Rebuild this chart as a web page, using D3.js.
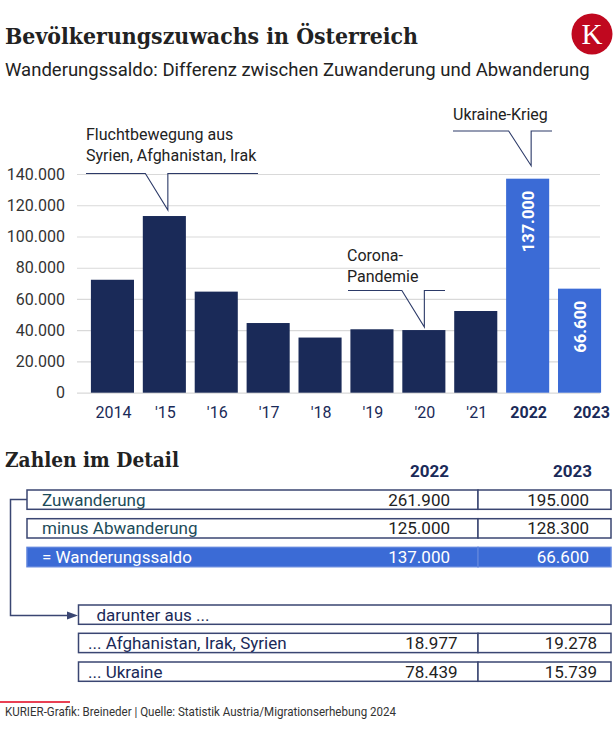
<!DOCTYPE html>
<html>
<head>
<meta charset="utf-8">
<script src="https://cdn.jsdelivr.net/npm/d3@7"></script>
<style>
  body { margin: 0; background: #fff; }
  text { font-family: Roboto, "Noto Sans", sans-serif; }
</style>
</head>
<body>
<div id="chart"></div>
<script>
// Wanderungssaldo per year
const years = ["2014", "'15", "'16", "'17", "'18", "'19", "'20", "'21", "2022", "2023"];
const saldo = [72300, 113100, 64700, 44600, 35300, 40600, 40100, 52300, 137000, 66600];
const highlighted = ["2022", "2023"];
const yTicks = [0, 20000, 40000, 60000, 80000, 100000, 120000, 140000];

// Detail table
const tableYears = ["2022", "2023"];
const mainRows = ["Zuwanderung", "minus Abwanderung", "= Wanderungssaldo"];
const mainValues = [[261900, 195000], [125000, 128300], [137000, 66600]];
const detailHeader = "darunter aus ...";
const detailRows = ["... Afghanistan, Irak, Syrien", "... Ukraine"];
const detailValues = [[18977, 19278], [78439, 15739]];

const width = 616, height = 736;
const navy = "#1a2a58", blue = "#3b6bd6", boxStroke = "#3a4672";

const de = d3.formatLocale({decimal: ",", thousands: ".", grouping: [3], currency: ["", " €"]});
const fmt = de.format(",");

const svg = d3.select("#chart").append("svg")
    .attr("width", width)
    .attr("height", height);

// Title + subtitle
svg.append("text")
    .attr("x", 5).attr("y", 44)
    .style("font-family", "'DejaVu Serif', serif")
    .style("font-weight", "bold")
    .style("font-size", "23px")
    .attr("textLength", 413).attr("lengthAdjust", "spacingAndGlyphs")
    .attr("fill", "#222")
    .text("Bevölkerungszuwachs in Österreich");

svg.append("text")
    .attr("x", 5).attr("y", 76)
    .style("font-size", "18.5px")
    .attr("fill", "#222")
    .text("Wanderungssaldo: Differenz zwischen Zuwanderung und Abwanderung");

// KURIER logo
const logo = svg.append("g").attr("transform", "translate(592,34)");
logo.append("circle").attr("r", 20.5).attr("fill", "#c0081f");
logo.append("text")
    .attr("text-anchor", "middle").attr("y", 10)
    .style("font-family", "'Liberation Serif', serif")
    .style("font-size", "29px")
    .attr("fill", "#fff")
    .text("K");

// Scales
const x = d3.scaleBand()
    .domain(years)
    .range([86.5, 605.5])
    .paddingInner(0.17)
    .paddingOuter(0.085);

const y = d3.scaleLinear()
    .domain([0, 140000])
    .range([392.7, 174]);

// Gridlines
svg.append("g")
    .attr("transform", "translate(77,0)")
    .call(d3.axisLeft(y).tickValues(yTicks).tickSize(-523).tickFormat(""))
    .call(g => g.select(".domain").remove())
    .call(g => g.selectAll("line").attr("stroke", "#d9d9d9").attr("stroke-width", 1.2));

// Y labels
svg.append("g")
    .attr("transform", "translate(77,0)")
    .call(d3.axisLeft(y).tickValues(yTicks).tickSize(0).tickPadding(12).tickFormat(fmt))
    .call(g => g.select(".domain").remove())
    .call(g => g.selectAll("text")
        .style("font-family", "Roboto, sans-serif")
        .style("font-size", "16px")
        .attr("fill", "#333"));

// X labels (last one nudged right, as in the original layout)
svg.append("g")
    .attr("transform", "translate(0," + y(0) + ")")
    .call(d3.axisBottom(x).tickSize(0).tickPadding(14))
    .call(g => g.select(".domain").remove())
    .call(g => g.selectAll("text")
        .style("font-family", "Roboto, sans-serif")
        .style("font-size", "16px")
        .style("font-weight", d => highlighted.includes(d) ? "bold" : "normal")
        .attr("dx", d => d === years[years.length - 1] ? 12 : 1)
        .attr("fill", navy));

// Bars
const data = years.map((yr, i) => ({year: yr, value: saldo[i]}));

svg.append("g").selectAll("rect")
    .data(data)
    .enter().append("rect")
    .attr("x", d => x(d.year))
    .attr("y", d => y(d.value))
    .attr("width", x.bandwidth())
    .attr("height", d => y(0) - y(d.value))
    .attr("fill", d => highlighted.includes(d.year) ? blue : navy);

// Value labels inside highlighted bars
svg.append("g").selectAll("text")
    .data(data.filter(d => highlighted.includes(d.year)))
    .enter().append("text")
    .attr("transform", d => "translate(" + (x(d.year) + x.bandwidth() / 2) + "," + (y(d.value) + 12) + ") rotate(-90)")
    .attr("text-anchor", "end")
    .attr("dy", "0.36em")
    .style("font-size", "16.5px")
    .style("font-weight", "bold")
    .attr("fill", "#fff")
    .text(d => fmt(d.value));

// Callout annotations
const notes = [
    {year: "'15", lines: ["Fluchtbewegung aus", "Syrien, Afghanistan, Irak"], textX: 86, textY: 140, lineY: 173.5, left: 86, right: 258, gap: 6, dx: 3.5},
    {year: "2022", lines: ["Ukraine-Krieg"], textX: 453, textY: 120, lineY: 131, left: 453, right: 552, gap: 13, dx: 3.5},
    {year: "'20", lines: ["Corona-", "Pandemie"], textX: 347, textY: 261, lineY: 290.5, left: 348, right: 445, gap: 3, dx: 0.5}
];

const noteG = svg.append("g");
notes.forEach(n => {
    const v = saldo[years.indexOf(n.year)];
    const tipX = x(n.year) + x.bandwidth() / 2 + n.dx;
    const tipY = y(v) - n.gap;
    noteG.append("path")
        .attr("d", "M" + n.left + "," + n.lineY + "H" + (tipX - 22.5) + "L" + tipX + "," + tipY +
            "V" + n.lineY + "H" + n.right)
        .attr("fill", "none")
        .attr("stroke", "#2c3a68")
        .attr("stroke-width", 1.1);
    noteG.append("text")
        .attr("x", n.textX).attr("y", n.textY)
        .style("font-size", "16px")
        .attr("fill", "#222")
        .selectAll("tspan")
        .data(n.lines)
        .enter().append("tspan")
        .attr("x", n.textX)
        .attr("dy", (d, i) => i === 0 ? 0 : 21)
        .text(d => d);
});

// ---- Zahlen im Detail ----
svg.append("text")
    .attr("x", 5).attr("y", 467)
    .style("font-family", "'DejaVu Serif', serif")
    .style("font-weight", "bold")
    .style("font-size", "21px")
    .attr("textLength", 174).attr("lengthAdjust", "spacingAndGlyphs")
    .attr("fill", "#222")
    .text("Zahlen im Detail");

const headRight = [449, 592];
svg.append("g").selectAll("text")
    .data(tableYears)
    .enter().append("text")
    .attr("x", (d, i) => headRight[i])
    .attr("y", 477)
    .attr("text-anchor", "end")
    .style("font-size", "17px")
    .style("font-weight", "bold")
    .attr("fill", navy)
    .text(d => d);

const rowH = 19.3, divX = 478, boxRight = 611;

function drawRow(g, top, left, label, values, opts) {
    const row = g.append("g");
    if (values) {
        [[left, divX], [divX, boxRight]].forEach(([a, b]) => {
            row.append("rect")
                .attr("x", a).attr("y", top)
                .attr("width", b - a).attr("height", rowH)
                .attr("fill", opts.fill || "#fff")
                .attr("stroke", opts.fill ? "#5d83dc" : boxStroke)
                .attr("stroke-width", 1.5);
        });
    } else {
        row.append("rect")
            .attr("x", left).attr("y", top)
            .attr("width", boxRight - left).attr("height", rowH)
            .attr("fill", "#fff")
            .attr("stroke", boxStroke)
            .attr("stroke-width", 1.5);
    }
    row.append("text")
        .attr("x", opts.textX).attr("y", top + 15.6)
        .style("font-size", "17px")
        .attr("fill", opts.labelColor)
        .text(label);
    if (values) {
        row.selectAll(".val")
            .data(values)
            .enter().append("text")
            .attr("class", "val")
            .attr("x", (d, i) => opts.valRight[i])
            .attr("y", top + 15.6)
            .attr("text-anchor", "end")
            .style("font-size", "17px")
            .attr("fill", opts.fill ? "#fff" : "#222")
            .text(d => fmt(d));
    }
}

const tableG = svg.append("g");
mainRows.forEach((label, i) => {
    const isSum = i === mainRows.length - 1;
    drawRow(tableG, 490 + i * 28.7, 27, label, mainValues[i], {
        textX: 42,
        valRight: [450, 589],
        fill: isSum ? blue : null,
        labelColor: isSum ? "#fff" : "#1c4b59"
    });
});

drawRow(tableG, 605, 78.5, detailHeader, null, {textX: 96.5, labelColor: navy});
detailRows.forEach((label, i) => {
    drawRow(tableG, 633.3 + i * 28.7, 78.5, label, detailValues[i], {
        textX: 88,
        valRight: [457.5, 597],
        labelColor: navy
    });
});

// connector arrow
tableG.append("path")
    .attr("d", "M27,499.5H10.5V615.5H70")
    .attr("fill", "none")
    .attr("stroke", boxStroke)
    .attr("stroke-width", 1.5);
tableG.append("path")
    .attr("d", "M78,615.5L67,611.5L67,619.5Z")
    .attr("fill", boxStroke);

// Footer
svg.append("line")
    .attr("x1", 0).attr("x2", 70)
    .attr("y1", 702).attr("y2", 702)
    .attr("stroke", "#e2001a").attr("stroke-width", 1.5);

svg.append("text")
    .attr("x", 5).attr("y", 716)
    .style("font-size", "12.5px")
    .attr("textLength", 391).attr("lengthAdjust", "spacingAndGlyphs")
    .attr("fill", "#333")
    .text("KURIER-Grafik: Breineder | Quelle: Statistik Austria/Migrationserhebung 2024");
</script>
</body>
</html>
